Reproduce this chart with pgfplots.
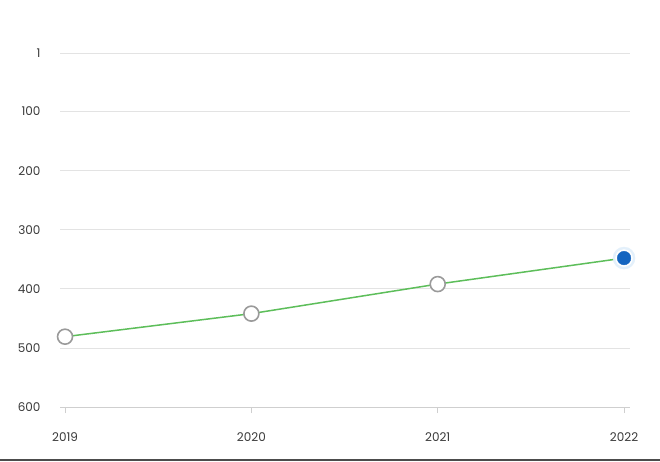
\documentclass[border=0pt]{standalone}
\usepackage{pgfplots}
\pgfplotsset{compat=1.18}
\usepackage{fontspec}
\setmainfont{Poppins}
\definecolor{txt}{HTML}{3A3A3A}
\definecolor{gridc}{HTML}{E3E3E3}
\definecolor{axc}{HTML}{CFCFCF}
\definecolor{linec}{HTML}{5DBE5A}
\definecolor{mk}{HTML}{9A9A9A}
\definecolor{blu}{HTML}{1565C0}
\definecolor{glow}{HTML}{E3F0FB}
\begin{document}
\begin{tikzpicture}
\useasboundingbox (0pt,0pt) rectangle (660pt,461pt);
\fill[white] (0pt,0pt) rectangle (660pt,461pt);
\fill[black!70] (0pt,0pt) rectangle (660pt,2.5pt);
\begin{axis}[
  at={(60pt,54pt)}, anchor=south west,
  scale only axis, width=570pt, height=354pt,
  xmin=2018.973, xmax=2022.032,
  ymin=1, ymax=600, y dir=reverse,
  xtick={2019,2020,2021,2022},
  ytick={1,100,200,300,400,500,600},
  xticklabels={2019,2020,2021,2022},
  yticklabels={1,100,200,300,400,500,600},
  ymajorgrids, grid style={gridc, line width=0.8pt},
  axis x line*=bottom, axis y line*=left,
  y axis line style={draw=none},
  x axis line style={axc, line width=1pt, -},
  xtick style={axc, line width=0.8pt},
  ytick style={draw=none},
  xtick align=outside, major tick length=6pt,
  tick label style={font=\fontsize{12}{14}\selectfont, text=txt},
  x tick label style={yshift=-16pt},
  y tick label style={xshift=-16pt},
  clip=false,
]
\addplot[linec, line width=1.5pt, no marks]
  coordinates {(2019,481) (2020,442) (2021,392) (2022,348)};
\addplot[only marks, mark=*, mark size=7.5pt,
  mark options={draw=mk, fill=white, line width=1.6pt}]
  coordinates {(2019,481) (2020,442) (2021,392)};
\addplot[only marks, mark=*, mark size=11pt, mark options={draw=glow, fill=glow}]
  coordinates {(2022,348)};
\addplot[only marks, mark=*, mark size=8.5pt, mark options={draw=white, fill=white}]
  coordinates {(2022,348)};
\addplot[only marks, mark=*, mark size=6.8pt, mark options={draw=blu, fill=blu}]
  coordinates {(2022,348)};
\end{axis}
\end{tikzpicture}
\end{document}
